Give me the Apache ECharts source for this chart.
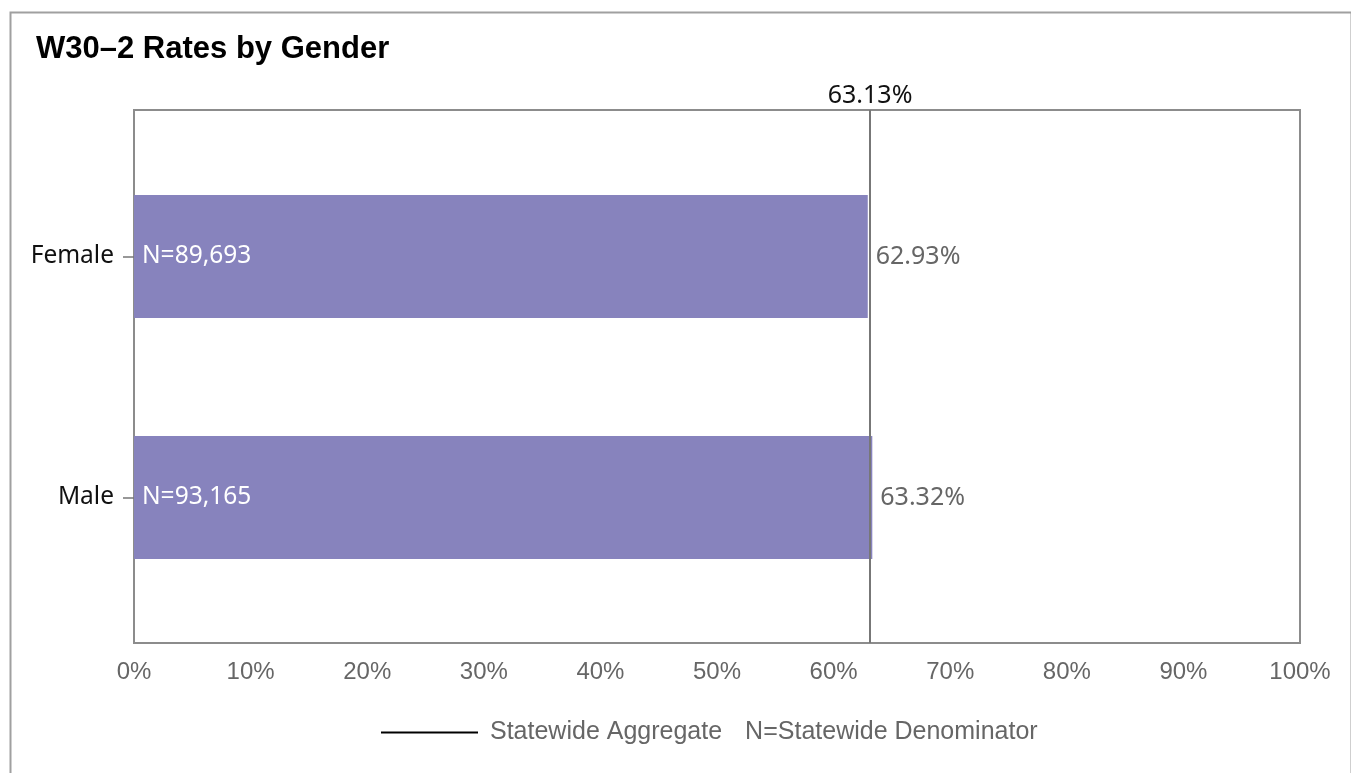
<!DOCTYPE html>
<html>
<head>
<meta charset="utf-8">
<script src="https://cdn.jsdelivr.net/npm/echarts@6/dist/echarts.min.js"></script>
<style>html,body{margin:0;padding:0;background:#fff;}#c{width:1351px;height:773px;}</style>
</head>
<body>
<div id="c"></div>
<script>
const categories = ['Female', 'Male'];
const rates = [62.93, 63.32];
const denominators = [89693, 93165];
const statewideRate = 63.13;
const xTicks = [0, 10, 20, 30, 40, 50, 60, 70, 80, 90, 100];

const chart = echarts.init(document.getElementById('c'));
const fmtN = v => 'N=' + v.toLocaleString('en-US');

chart.setOption({
  animation: false,
  backgroundColor: '#fff',
  title: {
    text: 'W30\u20132 Rates by Gender',
    left: 31, top: 29,
    textStyle: { fontFamily: 'Liberation Sans, Arial', fontWeight: 'bold', fontSize: 31, color: '#000' }
  },
  graphic: [{
    type: 'rect', left: 8, top: 10, silent: true,
    shape: { width: 1341, height: 800 },
    style: { fill: 'none', stroke: '#a0a0a0', lineWidth: 2 }
  }],
  legend: {
    data: [{ name: 'Statewide Aggregate', icon: 'path://M0,0 L100,0 L100,2 L0,2 Z' }],
    left: 376, top: 715,
    itemWidth: 97, itemHeight: 2, itemGap: 0,
    formatter: () => '{a|Statewide Aggregate}{b|N=Statewide Denominator}',
    textStyle: {
      rich: {
        a: { fontFamily: 'Liberation Sans, Arial', fontSize: 25, color: '#666', padding: [0, 0, 0, 7] },
        b: { fontFamily: 'Liberation Sans, Arial', fontSize: 25, color: '#666', padding: [0, 0, 0, 23] }
      }
    }
  },
  grid: [
    { left: 134, right: 51, top: 110, bottom: 130, show: true, borderColor: '#8c8c8c', borderWidth: 2, backgroundColor: 'transparent' },
    { left: 134, right: 51, top: 136, bottom: 155 }
  ],
  xAxis: [
    {
      gridIndex: 0, type: 'value', min: 0, max: 100, interval: 10,
      axisLine: { show: false }, axisTick: { show: false }, splitLine: { show: false },
      axisLabel: {
        margin: 17, formatter: v => v + '%',
        fontFamily: 'Liberation Sans, Arial', fontSize: 24, color: '#666'
      }
    },
    {
      gridIndex: 1, type: 'value', min: 0, max: 100, show: false
    }
  ],
  yAxis: [
    { gridIndex: 0, type: 'value', min: 0, max: 1, show: false },
    {
      gridIndex: 1, type: 'category', data: categories, inverse: true,
      axisLine: { show: false },
      axisTick: { show: true, length: 11, alignWithLabel: true, lineStyle: { color: '#777', width: 1.5 } },
      axisLabel: { margin: 20, fontFamily: 'Noto Sans', fontSize: 24.5, color: '#111' }
    }
  ],
  series: [
    {
      name: 'Rate', type: 'bar', xAxisIndex: 1, yAxisIndex: 1,
      data: rates, barWidth: 123,
      itemStyle: { color: '#8783bd' },
      label: {
        show: true, position: 'right', distance: 8,
        formatter: p => p.value.toFixed(2) + '%',
        fontFamily: 'Noto Sans', fontSize: 25, color: '#666'
      }
    },
    {
      name: 'N', type: 'bar', xAxisIndex: 1, yAxisIndex: 1,
      data: rates, barWidth: 123, barGap: '-100%',
      itemStyle: { color: 'rgba(0,0,0,0)' },
      label: {
        show: true, position: 'insideLeft', distance: 8,
        formatter: p => fmtN(denominators[p.dataIndex]),
        fontFamily: 'Noto Sans', fontSize: 24.5, color: '#fff'
      }
    },
    {
      name: 'Statewide Aggregate', type: 'line', xAxisIndex: 0, yAxisIndex: 0,
      data: [], color: '#000',
      markLine: {
        silent: true, symbol: ['none', 'none'],
        lineStyle: { color: '#777', width: 2, type: 'solid' },
        label: {
          show: true, position: 'end', distance: 2,
          formatter: () => statewideRate.toFixed(2) + '%',
          fontFamily: 'Noto Sans', fontSize: 25, color: '#111'
        },
        data: [{ xAxis: statewideRate }]
      }
    }
  ]
});
</script>
</body>
</html>
